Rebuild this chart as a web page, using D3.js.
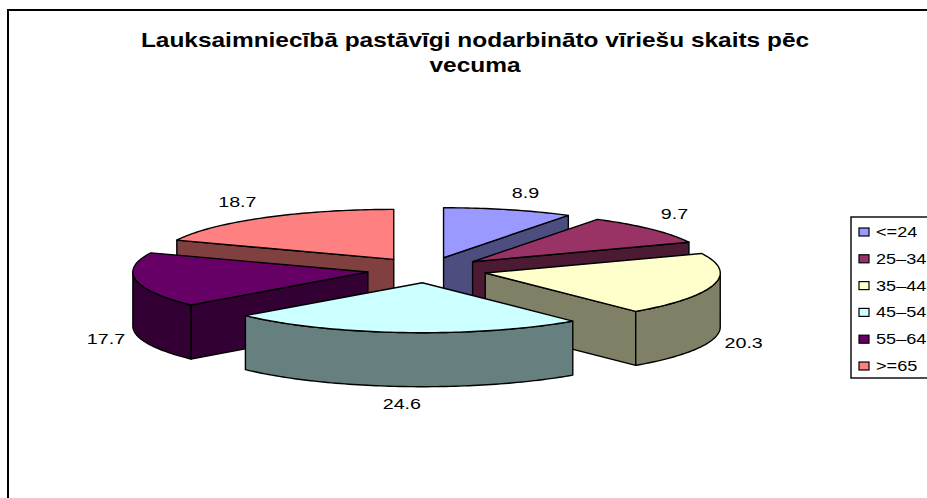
<!DOCTYPE html>
<html><head><meta charset="utf-8"><style>html,body{margin:0;padding:0;background:#fff;overflow:hidden}svg{display:block}text{font-family:"Liberation Sans",Arial,sans-serif;fill:#000}</style>
<script src="https://cdnjs.cloudflare.com/ajax/libs/d3/7.8.5/d3.min.js"></script></head><body><svg id="c" width="927" height="498"></svg>
<script>
const categories=["<=24","25–34","35–44","45–54","55–64",">=65"];
const values=[8.9,9.7,20.3,24.6,17.7,18.7];
const colors=["#9999FF","#993366","#FFFFCC","#CCFFFF","#660066","#FF8080"];
const titleLines=["Lauksaimniecībā pastāvīgi nodarbināto vīriešu skaits pēc","vecuma"];
const drawOrder=[5,0,1,2,4,3];
const labelOffsets=[[17,-17],[23,-15],[30,58],[-2,71],[-30,59],[-26,-16]];

const W=927,H=498,cx=427,cy=270,rx=235,ry=50,depth=54,explode=0.255,stretch=1.27;
const svg=d3.select("#c");
svg.append("rect").attr("x",8).attr("y",10).attr("width",W+20).attr("height",H+20).attr("fill","#fff").attr("stroke","#000").attr("stroke-width",2);
const sx=d3.scaleLinear().domain([-1,1]).range([-rx,rx]);
const sy=d3.scaleLinear().domain([-1,1]).range([ry,-ry]);
const arcs=d3.pie().sort(null).value(d=>d)(values);
const dark=c=>{const r=d3.rgb(c);return d3.rgb(r.r/2,r.g/2,r.b/2).formatHex();};
function P(ax,ay,a,d=0){return [ax+sx(Math.sin(a)),ay+sy(Math.cos(a))+d];}
function arcPts(ax,ay,a0,a1,d=0){const n=Math.max(2,Math.ceil((a1-a0)/0.02));return d3.range(n+1).map(i=>P(ax,ay,a0+(a1-a0)*i/n,d));}
const line=d3.line();
const g=svg.append("g").attr("stroke","#000").attr("stroke-width",1.4).attr("stroke-linejoin","round");
const geo=arcs.map(a=>{const m=(a.startAngle+a.endAngle)/2;return {a,m,ax:cx+explode*sx(Math.sin(m)),ay:cy+explode*sy(Math.cos(m))};});
drawOrder.forEach(i=>{
  const {a,ax,ay}=geo[i],c=colors[i],dk=dark(c),s=a.startAngle,e=a.endAngle;
  const wall=(ang)=>{const p=P(ax,ay,ang),q=P(ax,ay,ang,depth);
    g.append("path").attr("d",line([[ax,ay],p,q,[ax,ay+depth]])+"Z").attr("fill",dk);};
  if(Math.sin(s)<0)wall(s);
  if(Math.sin(e)>0)wall(e);
  const o0=Math.max(s,Math.PI/2),o1=Math.min(e,Math.PI*1.5);
  if(o1>o0){g.append("path").attr("d",line(arcPts(ax,ay,o0,o1).concat(arcPts(ax,ay,o0,o1,depth).reverse()))+"Z").attr("fill",dk);}
  g.append("path").attr("d",line([[ax,ay]].concat(arcPts(ax,ay,s,e)))+"Z").attr("fill",c);
});
const label=(x,y,t,size,anchor,bold,st=stretch)=>svg.append("text").attr("transform",`translate(${x},${y}) scale(${st},1)`).attr("text-anchor",anchor).attr("font-size",size).attr("font-weight",bold?"bold":null).text(t);
geo.forEach((d,i)=>{const r=P(d.ax,d.ay,d.m);
  label(r[0]+labelOffsets[i][0],r[1]+labelOffsets[i][1]+5,d3.format(".1f")(values[i]),15.5,"middle");});
titleLines.forEach((t,i)=>label(475,47+i*25,t,20,"middle",true,1.222));
svg.append("rect").attr("x",851).attr("y",217).attr("width",W).attr("height",161).attr("fill","#fff").attr("stroke","#000").attr("stroke-width",1.4);
const ly=d3.scalePoint().domain(categories).range([232,366]);
categories.forEach((t,i)=>{
  svg.append("rect").attr("x",859).attr("y",ly(t)-4).attr("width",10).attr("height",8).attr("fill",colors[i]).attr("stroke","#000").attr("stroke-width",1.2);
  label(876,ly(t)+5,t,15.5,"start",false,1.17);
});
</script></body></html>
